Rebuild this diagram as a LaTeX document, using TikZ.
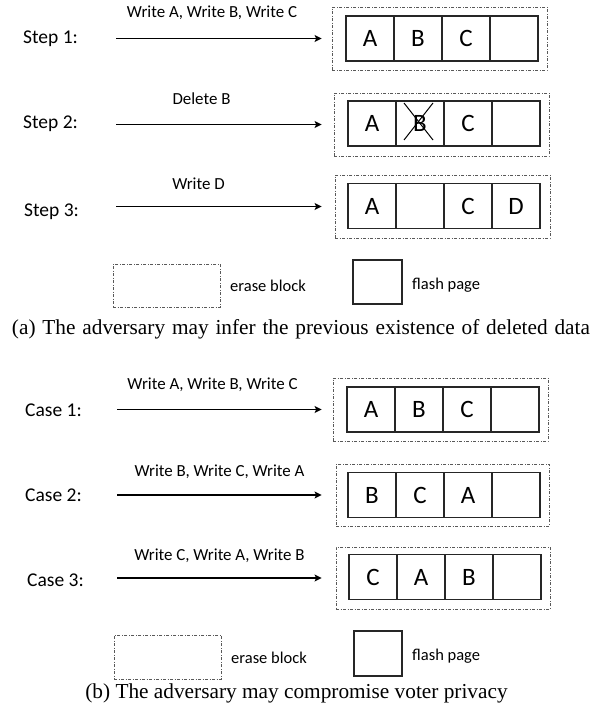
\documentclass[tikz,border=0pt]{standalone}
\usepackage{fontspec}
\setmainfont{Carlito}
\newfontfamily\capfont{Liberation Serif}
\usetikzlibrary{arrows.meta,calc}
\tikzset{
  pagebox/.style={draw=black!85,line width=1.3pt,minimum width=48pt,minimum height=45pt,inner sep=0pt,font=\fontsize{25}{28}\selectfont},
  eraseblk/.style={draw=black!65,line width=0.8pt,dash pattern=on 3pt off 1.6pt on 0.8pt off 1.6pt,inner sep=0pt},
  arr/.style={line width=1.5pt,-{Stealth[length=7pt,width=7pt,inset=1.5pt]}},
  steplbl/.style={anchor=base west,inner sep=0pt,font=\fontsize{19.5}{22}\selectfont},
  oplbl/.style={anchor=base,inner sep=0pt,font=\fontsize{16.9}{19}\selectfont},
  legendlbl/.style={anchor=base west,inner sep=0pt,font=\fontsize{16.5}{19}\selectfont},
  captionlbl/.style={anchor=base,inner sep=0pt,font=\capfont\fontsize{21.3}{24}\selectfont}
}
\newcommand{\pagerowx}[7]{%
  \node[pagebox] (#1a) at (#2+24,#3) {#4};
  \node[pagebox] (#1b) at (#2+72,#3) {#5};
  \node[pagebox] (#1c) at (#2+120,#3) {#6};
  \node[pagebox] (#1d) at (#2+168,#3) {#7};
}
\begin{document}
\begin{tikzpicture}[x=1pt,y=-1pt]
\useasboundingbox (0,0) rectangle (594,711);
% ---------- part (a) ----------
\node[eraseblk,minimum width=215pt,minimum height=63pt] (eb1) at (439.5,38.5) {};
\node[eraseblk,minimum width=215pt,minimum height=63pt] (eb2) at (441.5,124.5) {};
\node[eraseblk,minimum width=215pt,minimum height=63pt] (eb3) at (442.5,206.5) {};
\pagerowx{sa}{346}{38.5}{A}{B}{C}{}
\pagerowx{sb}{348}{123.5}{A}{B}{C}{}
\pagerowx{sc}{348}{206}{A}{}{C}{D}
\draw[line width=1pt] ($(sbb)+(-16,-20.5)$) -- ($(sbb)+(13,16.5)$);
\draw[line width=1pt] ($(sbb)+(13,-20.5)$) -- ($(sbb)+(-16,16.5)$);

\node[steplbl] (st1) at (23,43.3) {Step 1:};
\node[steplbl] (st2) at (23,128.3) {Step 2:};
\node[steplbl] (st3) at (24,216) {Step 3:};
\coordinate (as1) at (116,38.5);
\coordinate (as2) at (116,124.5);
\coordinate (as3) at (116,206.5);
\draw[arr,shorten >=10pt] (as1) -- (eb1);
\draw[arr,shorten >=12pt] (as2) -- (eb2);
\draw[arr,shorten >=13pt] (as3) -- (eb3);
\node[oplbl] (op1) at (212,17.5) {Write A, Write B, Write C};
\node[oplbl] (op2) at (201.5,105) {Delete B};
\node[oplbl] (op3) at (198.5,189.5) {Write D};

\node[eraseblk,minimum width=107pt,minimum height=43pt] (ela) at (166.5,285.5) {};
\node[legendlbl] (ela-t) at (230,291) {erase block};
\node[pagebox,minimum width=49pt,minimum height=44pt] (fla) at (377.5,282) {};
\node[legendlbl] (fla-t) at (412,289) {flash page};
\node[captionlbl] (capa) at (301,334) {\makebox[578pt][s]{(a) The adversary may infer the previous existence of deleted data}};

% ---------- part (b) ----------
\node[eraseblk,minimum width=215pt,minimum height=63pt] (ec1) at (440.5,409.5) {};
\node[eraseblk,minimum width=213pt,minimum height=62pt] (ec2) at (442.5,495) {};
\node[eraseblk,minimum width=214pt,minimum height=62pt] (ec3) at (443,578) {};
\pagerowx{ca}{347}{409.5}{A}{B}{C}{}
\pagerowx{cb}{348}{495}{B}{C}{A}{}
\pagerowx{cc}{349}{577}{C}{A}{B}{}

\node[steplbl] (cs1) at (25,416) {Case 1:};
\node[steplbl] (cs2) at (25,501.7) {Case 2:};
\node[steplbl] (cs3) at (27,586) {Case 3:};
\coordinate (ac1) at (117,409.5);
\coordinate (ac2) at (117,495);
\coordinate (ac3) at (117,578);
\draw[arr,shorten >=11pt] (ac1) -- (ec1);
\draw[arr,shorten >=14pt] (ac2) -- (ec2);
\draw[arr,shorten >=14pt] (ac3) -- (ec3);
\node[oplbl] (oc1) at (212.5,389.3) {Write A, Write B, Write C};
\node[oplbl] (oc2) at (219.5,476.7) {Write B, Write C, Write A};
\node[oplbl] (oc3) at (219.5,560) {Write C, Write A, Write B};

\node[eraseblk,minimum width=107pt,minimum height=44pt] (elb) at (167.5,657) {};
\node[legendlbl] (elb-t) at (231,663) {erase block};
\node[pagebox,minimum width=48pt,minimum height=45pt] (flb) at (378,653.5) {};
\node[legendlbl] (flb-t) at (412,660) {flash page};
\node[captionlbl] (capb) at (296.5,698) {(b) The adversary may compromise voter privacy};
\end{tikzpicture}
\end{document}
